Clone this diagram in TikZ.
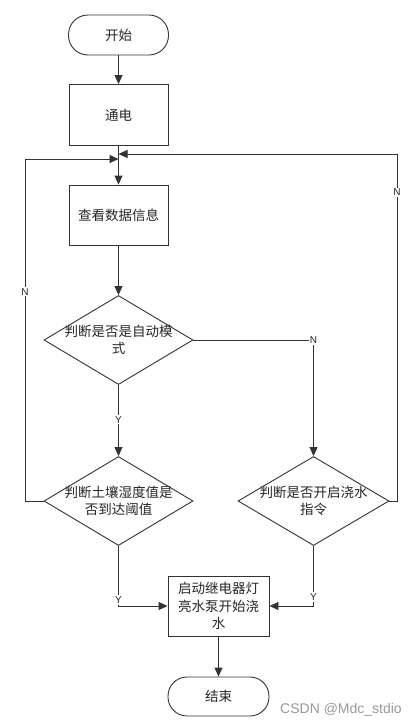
\documentclass[tikz,border=0pt]{standalone}
\usepackage{fontspec}
\newfontfamily\cjk{Noto Sans CJK SC}
\newfontfamily\lat{Liberation Sans}
\usetikzlibrary{shapes.geometric,arrows.meta}
\begin{document}
\begin{tikzpicture}[x=1pt,y=-1pt,
  every node/.style={font=\cjk\fontsize{13.5}{17.5}\selectfont, text=black!85},
  ln/.style={draw=black!80, line width=0.9pt},
  arr/.style={ln, -{Triangle[length=9pt,width=8pt]}},
  term/.style={ln, rectangle, rounded corners=19.5pt, minimum width=100pt, minimum height=40pt, inner sep=0pt},
  proc/.style={ln, rectangle, minimum width=99pt, minimum height=60pt, inner sep=0pt, align=center},
  dec/.style={ln, diamond, minimum width=149pt, minimum height=89pt, inner sep=0pt},
  lbl/.style={font=\lat\fontsize{10}{12}\selectfont, fill=white, inner sep=1.2pt, text=black!85}]
\useasboundingbox (0,0) rectangle (418,726);
\fill[white] (0,0) rectangle (418,726);

\node[term] (start) at (118.5,35) {开始};
\node[proc, minimum height=61pt] (power) at (118.5,115) {通电};
\node[proc] (view) at (118.5,215) {查看数据信息};
\node[dec, label={[align=center]center:{判断是否是自动模\\式}}] (d1) at (118.5,340) {};
\node[dec, label={[align=center]center:{判断土壤湿度值是\\否到达阈值}}] (d2) at (118.5,501) {};
\node[dec, minimum width=151pt, label={[align=center]center:{判断是否开启浇水\\指令}}] (d3) at (313.5,501) {};
\node[proc, minimum width=101pt] (act) at (218.5,606) {启动继电器灯\\亮水泵开始浇\\水};
\node[term, minimum width=101pt, minimum height=39pt, rounded corners=19pt] (stop) at (218.5,696.5) {结束};

\coordinate (jl) at (118.5,159);
\coordinate (jr) at (118.5,154);
\coordinate (lx) at (25,501);
\coordinate (rx) at (397,501);

\draw[arr] (start) -- (power);
\draw[arr] (power) -- (view);
\draw[arr] (view) -- (d1);
\draw[arr] (d1) -- node[lbl, pos=0.49] {Y} (d2);
\draw[arr] (d1.east) -| node[lbl, pos=0.5] {N} (d3.north);
\draw[arr] (d2.west) -- (lx) |- node[lbl, pos=0.306] {N} (jl);
\draw[arr] (d3.east) -- (rx) |- node[lbl, pos=0.445] {N} (jr);
\draw[arr] (d2.south) |- node[lbl, pos=0.5, yshift=6pt] {Y} (act.west);
\draw[arr] (d3.south) |- node[lbl, pos=0.5, yshift=9pt] {Y} (act.east);
\draw[arr] (act) -- (stop);

\node[font=\lat\fontsize{14}{16}\selectfont, text=black!40] (wm) at (341,710) {CSDN @Mdc\_stdio};
\end{tikzpicture}
\end{document}
